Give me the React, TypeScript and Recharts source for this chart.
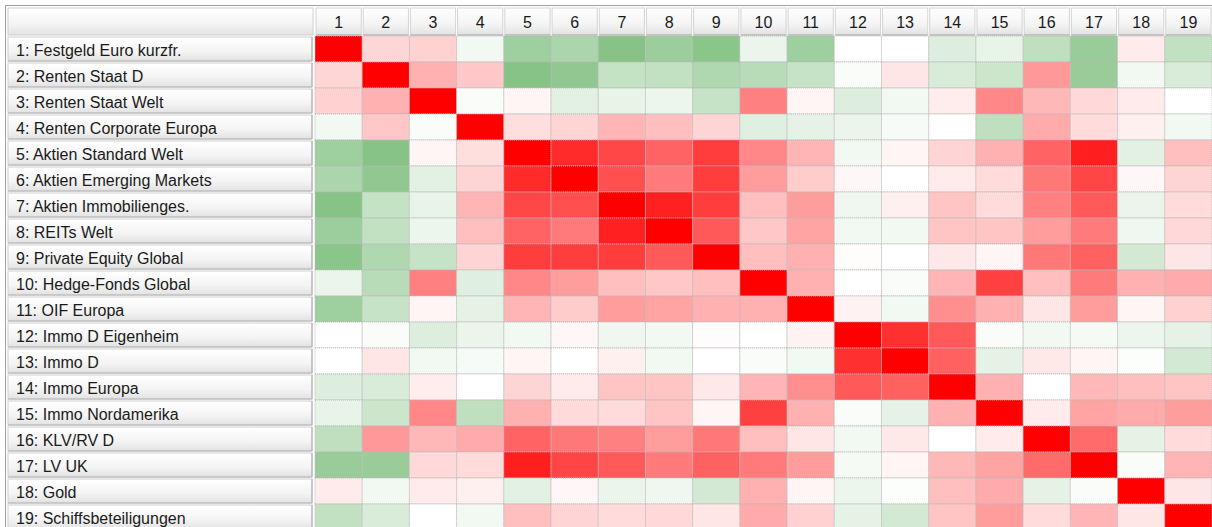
import { BarChart, Bar, XAxis, YAxis, Cell } from 'recharts'

// row labels (y axis) and column headers (x axis)
const rowLabels = [
  '1: Festgeld Euro kurzfr.',
  '2: Renten Staat D',
  '3: Renten Staat Welt',
  '4: Renten Corporate Europa',
  '5: Aktien Standard Welt',
  '6: Aktien Emerging Markets',
  '7: Aktien Immobilienges.',
  '8: REITs Welt',
  '9: Private Equity Global',
  '10: Hedge-Fonds Global',
  '11: OIF Europa',
  '12: Immo D Eigenheim',
  '13: Immo D',
  '14: Immo Europa',
  '15: Immo Nordamerika',
  '16: KLV/RV D',
  '17: LV UK',
  '18: Gold',
  '19: Schiffsbeteiligungen',
]

const colLabels = ['1', '2', '3', '4', '5', '6', '7', '8', '9', '10', '11', '12', '13', '14', '15', '16', '17', '18', '19']

// correlation values (red = positive, green = negative)
const corr = [
  [1, 0.16, 0.18, -0.05, -0.38, -0.33, -0.47, -0.39, -0.46, -0.08, -0.38, 0, 0, -0.13, -0.09, -0.25, -0.4, 0.08, -0.24],
  [0.16, 1, 0.31, 0.22, -0.47, -0.43, -0.23, -0.24, -0.31, -0.28, -0.22, -0.02, 0.1, -0.15, -0.2, 0.4, -0.4, -0.05, -0.15],
  [0.18, 0.31, 1, -0.02, 0.04, -0.11, -0.09, -0.07, -0.22, 0.5, 0.04, -0.13, -0.05, 0.07, 0.47, 0.28, 0.15, 0.08, 0],
  [-0.05, 0.22, -0.02, 1, 0.13, 0.17, 0.29, 0.25, 0.17, -0.12, -0.1, -0.08, -0.03, 0, -0.25, 0.33, 0.14, 0.06, -0.05],
  [-0.38, -0.47, 0.04, 0.13, 1, 0.83, 0.72, 0.61, 0.76, 0.47, 0.29, -0.05, 0.04, 0.17, 0.31, 0.61, 0.88, -0.11, 0.25],
  [-0.33, -0.43, -0.11, 0.17, 0.83, 1, 0.69, 0.52, 0.76, 0.39, 0.2, 0.03, 0, 0.08, 0.14, 0.53, 0.73, 0.03, 0.17],
  [-0.47, -0.23, -0.09, 0.29, 0.72, 0.69, 1, 0.87, 0.76, 0.25, 0.39, -0.06, 0.06, 0.23, 0.14, 0.5, 0.65, -0.08, 0.14],
  [-0.39, -0.24, -0.07, 0.25, 0.61, 0.52, 0.87, 1, 0.65, 0.22, 0.36, -0.05, -0.05, 0.23, 0.23, 0.39, 0.52, -0.06, 0.15],
  [-0.46, -0.31, -0.22, 0.17, 0.76, 0.76, 0.76, 0.65, 1, 0.25, 0.31, 0.01, 0, 0.09, 0.04, 0.53, 0.62, -0.17, 0.1],
  [-0.08, -0.28, 0.5, -0.12, 0.47, 0.39, 0.25, 0.22, 0.25, 1, 0.31, 0, -0.02, 0.29, 0.75, 0.25, 0.52, 0.31, 0.33],
  [-0.38, -0.22, 0.04, -0.1, 0.29, 0.2, 0.39, 0.36, 0.31, 0.31, 1, 0.05, -0.05, 0.44, 0.31, 0.1, 0.39, 0.04, 0.18],
  [0, -0.02, -0.13, -0.08, -0.05, 0.03, -0.06, -0.05, 0.01, 0, 0.05, 1, 0.81, 0.65, -0.02, -0.05, -0.04, -0.07, -0.1],
  [0, 0.1, -0.05, -0.03, 0.04, 0, 0.06, -0.05, 0, -0.02, -0.05, 0.81, 1, 0.62, -0.1, 0.09, 0.04, -0.01, -0.17],
  [-0.13, -0.15, 0.07, 0, 0.17, 0.08, 0.23, 0.23, 0.09, 0.29, 0.44, 0.65, 0.62, 1, 0.31, 0, 0.28, 0.25, 0.23],
  [-0.09, -0.2, 0.47, -0.25, 0.31, 0.14, 0.14, 0.23, 0.04, 0.75, 0.31, -0.02, -0.1, 0.31, 1, 0.08, 0.36, 0.33, 0.39],
  [-0.25, 0.4, 0.28, 0.33, 0.61, 0.53, 0.5, 0.39, 0.53, 0.25, 0.1, -0.05, 0.09, 0, 0.08, 1, 0.58, -0.1, 0.14],
  [-0.4, -0.4, 0.15, 0.14, 0.88, 0.73, 0.65, 0.52, 0.62, 0.52, 0.39, -0.04, 0.04, 0.28, 0.36, 0.58, 1, -0.02, 0.29],
  [0.08, -0.05, 0.08, 0.06, -0.11, 0.03, -0.08, -0.06, -0.17, 0.31, 0.04, -0.07, -0.01, 0.25, 0.33, -0.1, -0.02, 1, 0.1],
  [-0.24, -0.15, 0, -0.05, 0.25, 0.17, 0.14, 0.15, 0.1, 0.33, 0.18, -0.1, -0.17, 0.23, 0.39, 0.14, 0.29, 0.1, 1],
]

const colorFor = (v: number) => {
  if (v >= 0) {
    const g = Math.round(255 * (1 - v))
    return `rgb(255,${g},${g})`
  }
  const t = -v
  const rb = Math.round(255 - 255 * t)
  const g = Math.round(255 - 127 * t)
  return `rgb(${rb},${g},${rb})`
}

// every cell is one unit of a stacked horizontal bar
const data = rowLabels.map((name) => {
  const row: Record<string, any> = { name }
  colLabels.forEach((c) => { row['c' + c] = 1 })
  return row
})

const colTicks = colLabels.map((_, i) => i + 0.5)
const COL_W = 897 / 19

const HeaderTick = (props: any) => {
  const { x, payload, index } = props
  const label = colLabels[Math.floor(payload.value)]
  return (
    <g>
      {index === 0 && (
        <>
          <defs>
            <linearGradient id="btn" x1="0" y1="0" x2="0" y2="1">
              <stop offset="0%" stopColor="#ffffff" />
              <stop offset="60%" stopColor="#f4f4f4" />
              <stop offset="100%" stopColor="#e2e2e2" />
            </linearGradient>
          </defs>
          <rect x={8} y={8} width={305} height={27} fill="url(#btn)" stroke="#d0d0d0" />
        </>
      )}
      <rect x={x - COL_W / 2 + 1} y={8} width={COL_W - 2} height={27} fill="url(#btn)" stroke="#d4d4d4" />
      <line x1={x - COL_W / 2 + 1} x2={x + COL_W / 2 - 1} y1={35} y2={35} stroke="#a8a8a8" />
      <text x={x} y={22} textAnchor="middle" dominantBaseline="central" fontFamily="Liberation Sans" fontSize={16} fill="#1a1a1a">
        {label}
      </text>
    </g>
  )
}

const RowTick = (props: any) => {
  const { y, payload } = props
  return (
    <g>
      <rect x={8} y={y - 12} width={304} height={24} fill="url(#btn)" stroke="#d0d0d0" />
      <line x1={312} x2={312} y1={y - 12} y2={y + 12} stroke="#a8a8a8" />
      <line x1={8} x2={312} y1={y + 12} y2={y + 12} stroke="#b4b4b4" />
      <text x={16} y={y + 1} dominantBaseline="central" fontFamily="Liberation Sans" fontSize={16} fill="#1a1a1a">
        {payload.value}
      </text>
    </g>
  )
}

export default function App() {
  return (
    <div style={{ position: 'relative', width: 1212, height: 527, overflow: 'hidden', background: '#fff' }}>
      <style>{'body{margin:0}'}</style>
      <div style={{ position: 'absolute', left: 5, top: 5, right: 0, bottom: 0, borderLeft: '1px solid #a0a0a0', borderTop: '1px solid #a0a0a0' }} />
      <div style={{ position: 'absolute', left: 0, top: 0 }}>
        <BarChart
          width={1212}
          height={530}
          data={data}
          layout="vertical"
          margin={{ top: 8, right: 0, left: 0, bottom: 0 }}
          barCategoryGap={0}
          barGap={0}
        >
          <XAxis
            type="number"
            domain={[0, 19]}
            ticks={colTicks}
            orientation="top"
            height={28}
            axisLine={false}
            tickLine={false}
            tick={HeaderTick}
            interval={0}
          />
          <YAxis
            type="category"
            dataKey="name"
            width={315}
            axisLine={false}
            tickLine={false}
            tick={RowTick}
            interval={0}
          />
          {colLabels.map((c, j) => (
            <Bar key={c} dataKey={'c' + c} stackId="m" isAnimationActive={false}>
              {rowLabels.map((r, i) => (
                <Cell key={r} fill={colorFor(corr[i][j])} stroke="#b8b8b8" strokeWidth={1} strokeDasharray="1 1" />
              ))}
            </Bar>
          ))}
        </BarChart>
      </div>
    </div>
  )
}
